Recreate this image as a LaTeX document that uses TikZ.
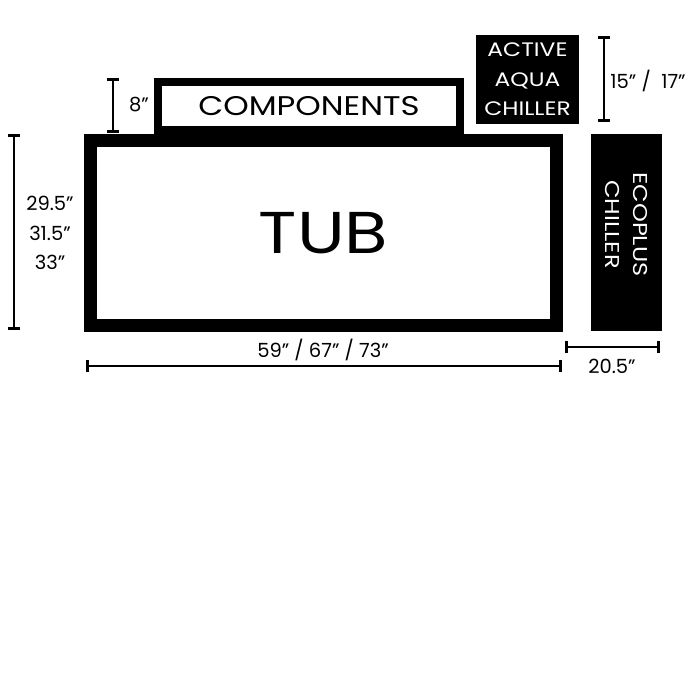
\documentclass[tikz,border=0pt]{standalone}
\usepackage{fontspec}
\setmainfont{Poppins}
\newfontfamily\widefont{Poppins}[FakeStretch=1.2]
\usetikzlibrary{arrows.meta}
\begin{document}
\begin{tikzpicture}[x=1pt,y=-1pt,
  dim/.style={line width=2.6pt,{Bar[width=12pt,line width=2.6pt]}-{Bar[width=12pt,line width=2.6pt]}},
  dimlabel/.style={inner sep=0pt,align=center,font=\fontsize{19.5}{29.5}\selectfont},
  unitbox/.style={draw=black,inner sep=0pt},
  blackbox/.style={fill=black,inner sep=0pt}]
\useasboundingbox (0,0) rectangle (700,700);
% components
\node[unitbox,line width=8pt,minimum width=302pt,minimum height=48pt,
      font=\widefont\fontsize{27}{30}\selectfont] (comp) at (309,106) {COMPONENTS};
% tub
\node[unitbox,line width=13pt,minimum width=466pt,minimum height=184pt,
      font=\widefont\fontsize{59}{70}\selectfont] (tub) at (323.5,233) {TUB};
% active aqua chiller
\node[blackbox,minimum width=103pt,minimum height=89pt,text=white,align=center,
      font=\widefont\fontsize{19.5}{29.5}\selectfont] (aqua) at (527.5,79.5) {ACTIVE\\AQUA\\CHILLER};
% ecoplus chiller
\node[blackbox,minimum width=71pt,minimum height=197pt] (eco) at (626.5,232.5) {};
\node[rotate=-90,text=white,align=center,inner sep=0pt,
      font=\widefont\fontsize{20}{28}\selectfont] (ecotext) at ([yshift=8pt]eco.center) {ECOPLUS\\CHILLER};
% dimension coordinates
\coordinate (h1) at (14,134);   \coordinate (h2) at (14,330);
\coordinate (c1) at (113,78);   \coordinate (c2) at (113,133);
\coordinate (a1) at (604,36);   \coordinate (a2) at (604,122);
\coordinate (w1) at (86,366);   \coordinate (w2) at (562,366);
\coordinate (e1) at (565,347);  \coordinate (e2) at (660,347);
\draw[dim] (h1) -- (h2);
\draw[dim] (c1) -- (c2);
\draw[dim] (a1) -- (a2);
\draw[dim] (w1) -- (w2);
\draw[dim] (e1) -- (e2);
% labels
\node[dimlabel] (hl) at (50,233) {29.5"\\31.5"\\33"};
\node[dimlabel] (cl) at (139,105) {8"};
\node[dimlabel] (al) at (648,81) {15" /\ \ 17"};
\node[dimlabel] (wl) at (323,350) {59" / 67" / 73"};
\node[dimlabel] (el) at (612,366) {20.5"};
\end{tikzpicture}
\end{document}
